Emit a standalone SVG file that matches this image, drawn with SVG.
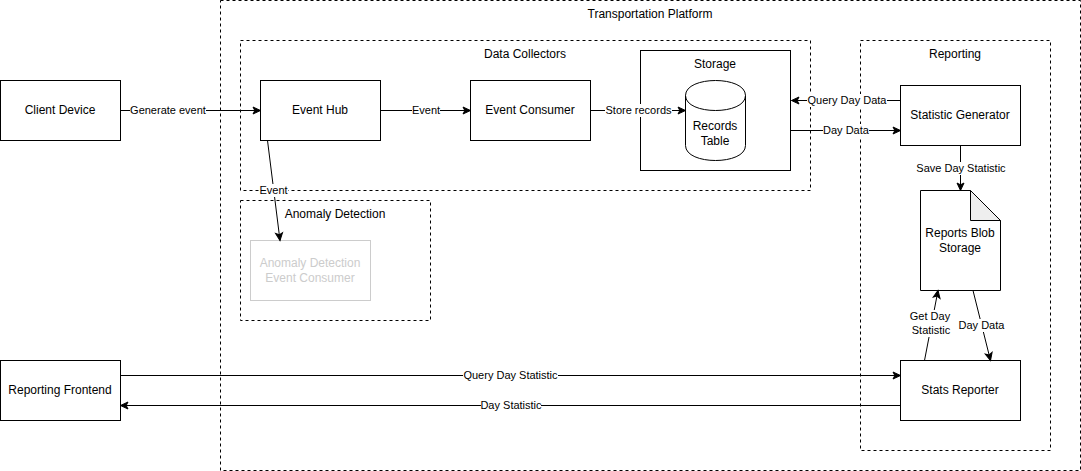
<svg xmlns="http://www.w3.org/2000/svg" width="1081" height="471" viewBox="0 0 1081 471">
<style>
text{font-family:"Liberation Sans",Arial,sans-serif;font-size:12px;fill:#000;text-anchor:middle}
.lab{font-size:11px}
.box{fill:#fff;stroke:#000;stroke-width:1}
.dash{fill:none;stroke:#000;stroke-width:1;stroke-dasharray:3 3}
.line{fill:none;stroke:#000;stroke-width:1;marker-end:url(#arrow)}
.plain{fill:none;stroke:#000;stroke-width:1}
.bg{fill:#fff}
.muted{fill:none;stroke:#ccc}
.mutedtext{fill:#ccc}
</style>
<defs>
<marker id="arrow" markerUnits="userSpaceOnUse" markerWidth="12" markerHeight="12" refX="9" refY="6" orient="auto">
<path d="M1.500 2.500L9 6L1.500 9.500L3.300 6Z" fill="#000" stroke="#000"/>
</marker>
</defs>
<rect x="0" y="0" width="1081" height="471" fill="#fff"/>
<g id="transportation-platform"><rect class="dash" x="220.500" y="0.500" width="860" height="470"/><text x="650" y="18">Transportation Platform</text></g>
<g id="data-collectors"><rect class="dash" x="240.500" y="40.500" width="570" height="150"/><text x="525" y="58">Data Collectors</text></g>
<g id="reporting"><rect class="dash" x="860.500" y="40.500" width="190" height="410"/><text x="955" y="58">Reporting</text></g>
<g id="anomaly-detection"><rect class="dash" x="240.500" y="200.500" width="190" height="120"/><text x="335" y="218">Anomaly Detection</text></g>
<g id="client-device"><rect class="box" x="0.500" y="80.500" width="120" height="60"/><text x="60" y="114">Client Device</text></g>
<g id="event-hub"><rect class="box" x="260.500" y="80.500" width="120" height="60"/><text x="320" y="114">Event Hub</text></g>
<g id="event-consumer"><rect class="box" x="470.500" y="80.500" width="120" height="60"/><text x="530" y="114">Event Consumer</text></g>
<g id="storage"><rect class="box" x="640.500" y="50.500" width="150" height="120"/><text x="715" y="68">Storage</text></g>
<g id="records-table"><path class="box" d="M685.500 95.500C685.500 75.500 745.500 75.500 745.500 95.500V145.500C745.500 165.500 685.500 165.500 685.500 145.500Z"/><path class="plain" d="M685.500 95.500C685.500 115.500 745.500 115.500 745.500 95.500"/><text x="715" y="130">Records</text><text x="715" y="145">Table</text></g>
<g id="statistic-generator"><rect class="box" x="900.500" y="85.500" width="120" height="60"/><text x="960" y="119">Statistic Generator</text></g>
<g id="reports-blob-storage"><path class="box" d="M920.500 190.500H970.500L1000.500 220.500V290.500H920.500Z"/><path d="M970.500 190.500V220.500H1000.500Z" fill="#eee" stroke="#000"/><text x="960" y="237">Reports Blob</text><text x="960" y="252">Storage</text></g>
<g id="stats-reporter"><rect class="box" x="900.500" y="360.500" width="120" height="60"/><text x="960" y="394">Stats Reporter</text></g>
<g id="anomaly-event-consumer"><rect class="muted" x="250.500" y="240.500" width="120" height="60"/><text class="mutedtext" x="310" y="267">Anomaly Detection</text><text class="mutedtext" x="310" y="282">Event Consumer</text></g>
<g id="reporting-frontend"><rect class="box" x="0.500" y="360.500" width="120" height="60"/><text x="60" y="394">Reporting Frontend</text></g>
<g id="connectors">
<path class="line" d="M120.500 110.500H260.500"/><rect class="bg" x="130" y="104" width="76" height="13"/><text class="lab" x="168" y="114">Generate event</text>
<path class="line" d="M380.500 110.500H470.500"/><rect class="bg" x="412" y="104" width="28" height="13"/><text class="lab" x="426" y="114">Event</text>
<path class="line" d="M590.500 110.500H685.500"/><rect class="bg" x="605" y="104" width="67" height="13"/><text class="lab" x="638.500" y="114">Store records</text>
<path class="line" d="M267.500 140.500L280 240.500"/><rect class="bg" x="259" y="184" width="29" height="13"/><text class="lab" x="273.500" y="194">Event</text>
<path class="line" d="M900.500 100.500H791.500"/><rect class="bg" x="807" y="94" width="80" height="13"/><text class="lab" x="847" y="104">Query Day Data</text>
<path class="line" d="M790.500 130.500H900.500"/><rect class="bg" x="823" y="124" width="46" height="13"/><text class="lab" x="846" y="134">Day Data</text>
<path class="line" d="M960.500 145.500V190.500"/><rect class="bg" x="916" y="162" width="90" height="13"/><text class="lab" x="961" y="172">Save Day Statistic</text>
<path class="line" d="M973 290.500L990.500 360.500"/><rect class="bg" x="958" y="319" width="47" height="13"/><text class="lab" x="981.500" y="329">Day Data</text>
<path class="line" d="M924.500 360.500L938 290.500"/><rect class="bg" x="909" y="310" width="43" height="27"/><text class="lab" x="930" y="320">Get Day</text><text class="lab" x="931" y="334">Statistic</text>
<path class="line" d="M120.500 375.500H900.500"/><rect class="bg" x="463" y="369" width="95" height="13"/><text class="lab" x="510.500" y="379">Query Day Statistic</text>
<path class="line" d="M900.500 405.500H120.500"/><rect class="bg" x="481" y="399" width="60" height="13"/><text class="lab" x="511" y="409">Day Statistic</text>
</g>
</svg>
